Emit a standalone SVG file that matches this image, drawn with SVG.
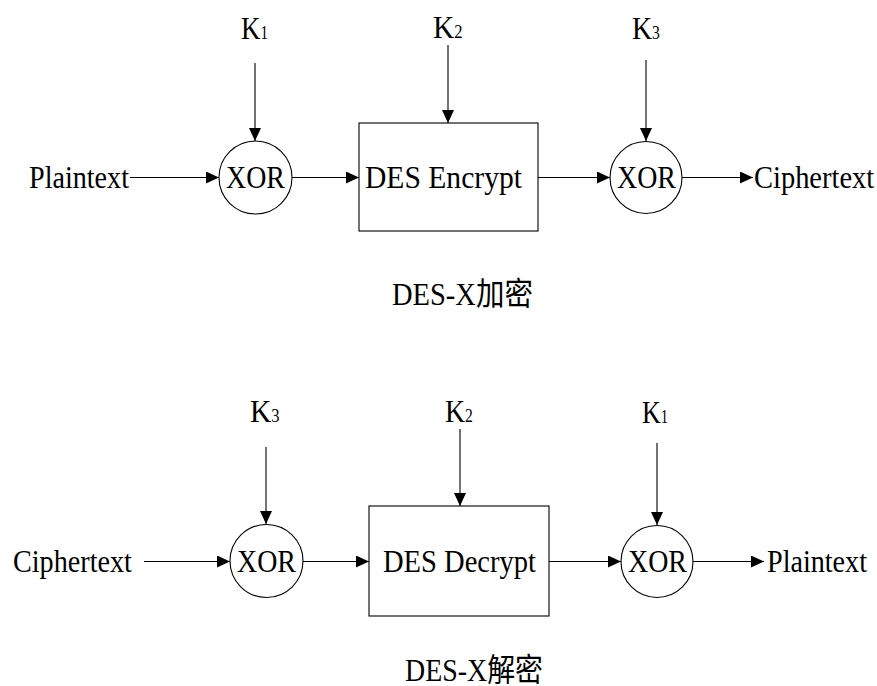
<svg xmlns="http://www.w3.org/2000/svg" width="877" height="686" viewBox="0 0 877 686">
<style>
text{font-family:"Liberation Serif","Noto Sans CJK TC",serif;font-size:32px;fill:#000}
.sub{font-size:18px}
.ln{stroke:#000;stroke-width:1.1;fill:none}
.shape{stroke:#000;stroke-width:1.1;fill:#fff}
</style>
<defs>
<marker id="ah" markerWidth="13" markerHeight="12" refX="13" refY="6" orient="auto" markerUnits="userSpaceOnUse">
<path d="M0,0 L13,6 L0,12 Z" fill="#000"/>
</marker>
</defs>
<rect width="877" height="686" fill="#fff"/>
<g id="connectors">
<line class="ln" x1="255" y1="63" x2="255" y2="141" marker-end="url(#ah)"/>
<line class="ln" x1="448" y1="45" x2="448" y2="123" marker-end="url(#ah)"/>
<line class="ln" x1="646" y1="60" x2="646" y2="141" marker-end="url(#ah)"/>
<line class="ln" x1="130" y1="177.5" x2="219" y2="177.5" marker-end="url(#ah)"/>
<line class="ln" x1="292" y1="177.5" x2="359" y2="177.5" marker-end="url(#ah)"/>
<line class="ln" x1="538" y1="177.5" x2="610" y2="177.5" marker-end="url(#ah)"/>
<line class="ln" x1="682" y1="177.5" x2="753" y2="177.5" marker-end="url(#ah)"/>
<line class="ln" x1="266" y1="447" x2="266" y2="524" marker-end="url(#ah)"/>
<line class="ln" x1="460" y1="429" x2="460" y2="506" marker-end="url(#ah)"/>
<line class="ln" x1="657" y1="443" x2="657" y2="525" marker-end="url(#ah)"/>
<line class="ln" x1="144" y1="561.5" x2="230" y2="561.5" marker-end="url(#ah)"/>
<line class="ln" x1="303" y1="561.5" x2="369" y2="561.5" marker-end="url(#ah)"/>
<line class="ln" x1="549" y1="561.5" x2="621" y2="561.5" marker-end="url(#ah)"/>
<line class="ln" x1="693" y1="561.5" x2="764" y2="561.5" marker-end="url(#ah)"/>
</g>
<g id="k1-top"><text transform="translate(241 39) scale(0.84 1)">K<tspan class="sub">1</tspan></text></g>
<g id="k2-top"><text transform="translate(433 38) scale(0.92 1)">K<tspan class="sub">2</tspan></text></g>
<g id="k3-top"><text transform="translate(632 39) scale(0.87 1)">K<tspan class="sub">3</tspan></text></g>
<g id="plaintext-in"><text transform="translate(29 188) scale(0.879 1)">Plaintext</text></g>
<g id="xor1-top"><circle class="shape" cx="255.5" cy="177.5" r="36.5"/><text transform="translate(226 188) scale(0.873 1)">XOR</text></g>
<g id="des-encrypt"><rect class="shape" x="359" y="123" width="179" height="108"/><text transform="translate(365 188) scale(0.925 1)">DES Encrypt</text></g>
<g id="xor2-top"><circle class="shape" cx="646" cy="177.5" r="36"/><text transform="translate(617 188) scale(0.873 1)">XOR</text></g>
<g id="ciphertext-out"><text transform="translate(754 188) scale(0.89 1)">Ciphertext</text></g>
<g id="caption-enc"><text transform="translate(392 305) scale(0.891 1)">DES-X加密</text></g>
<g id="k3-bot"><text transform="translate(250 422) scale(0.92 1)">K<tspan class="sub">3</tspan></text></g>
<g id="k2-bot"><text transform="translate(445 422) scale(0.87 1)">K<tspan class="sub">2</tspan></text></g>
<g id="k1-bot"><text transform="translate(642 423) scale(0.81 1)">K<tspan class="sub">1</tspan></text></g>
<g id="ciphertext-in"><text transform="translate(13 572) scale(0.881 1)">Ciphertext</text></g>
<g id="xor1-bot"><circle class="shape" cx="266.5" cy="561" r="36.5"/><text transform="translate(237 572) scale(0.873 1)">XOR</text></g>
<g id="des-decrypt"><rect class="shape" x="369" y="506" width="180" height="110"/><text transform="translate(383 572) scale(0.892 1)">DES Decrypt</text></g>
<g id="xor2-bot"><circle class="shape" cx="657" cy="561.5" r="36"/><text transform="translate(628 572) scale(0.873 1)">XOR</text></g>
<g id="plaintext-out"><text transform="translate(767 572) scale(0.879 1)">Plaintext</text></g>
<g id="caption-dec"><text transform="translate(405 681) scale(0.872 1)">DES-X解密</text></g>
</svg>
